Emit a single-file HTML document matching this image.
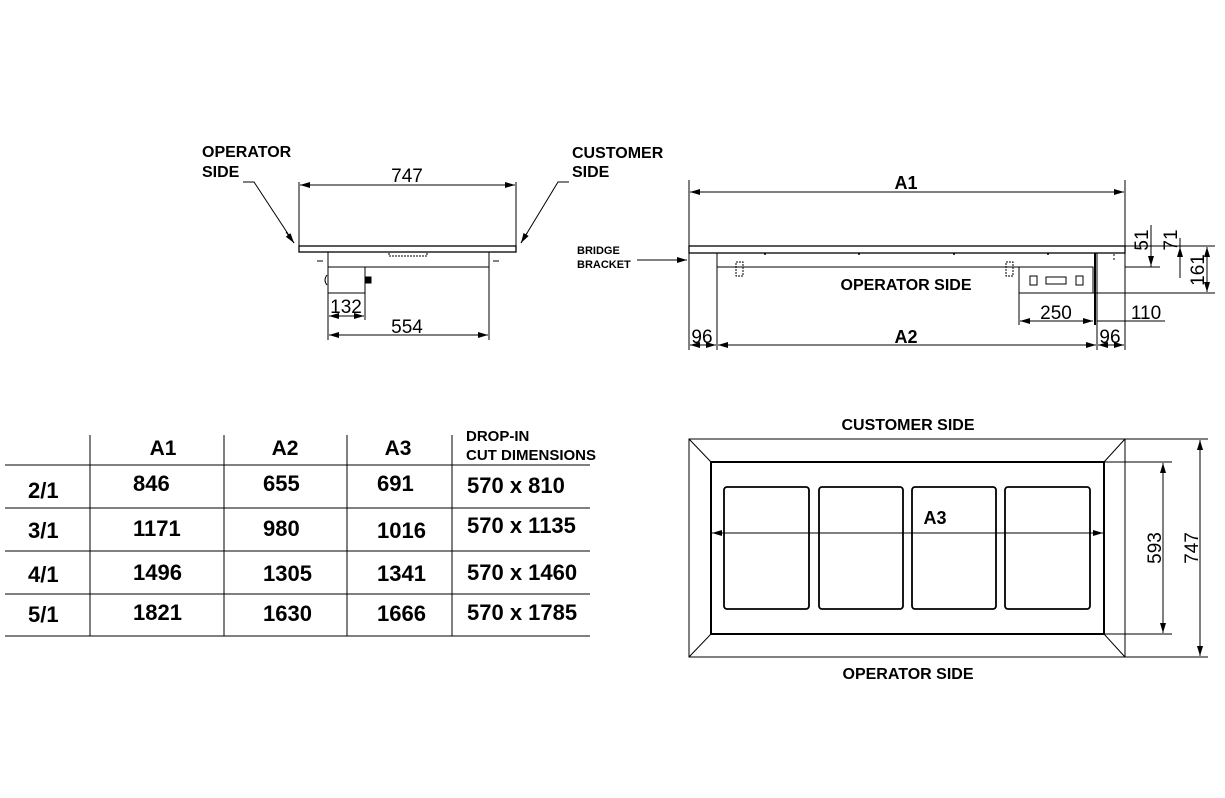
<!DOCTYPE html>
<html><head><meta charset="utf-8"><style>
html,body{margin:0;padding:0;background:#fff;}
svg{display:block;font-family:"Liberation Sans",Arial,sans-serif;}
.b{font-weight:bold;}
</style></head><body>
<svg width="1225" height="798" viewBox="0 0 1225 798" xmlns="http://www.w3.org/2000/svg">
<defs>
<marker id="a" viewBox="0 0 10 6" refX="10" refY="3" markerWidth="10" markerHeight="6" orient="auto-start-reverse" markerUnits="userSpaceOnUse"><path d="M0,0 L10,3 L0,6 z" fill="#000"/></marker>
</defs>
<g stroke="#000" fill="none" stroke-width="1">
<line x1="299" y1="182" x2="299" y2="252"/><line x1="516" y1="182" x2="516" y2="252"/>
<line x1="300" y1="185" x2="515" y2="185" marker-start="url(#a)" marker-end="url(#a)"/>
<rect x="299" y="246" width="217" height="6" stroke-width="1.3"/>
<rect x="328" y="252" width="161" height="15"/>
<line x1="328" y1="267" x2="328" y2="340"/><line x1="489" y1="267" x2="489" y2="340"/>
<line x1="328" y1="293" x2="365" y2="293"/><line x1="365" y1="267" x2="365" y2="320"/>
<path d="M389 253 v3 h38 v-3" stroke-dasharray="2 1"/>
<line x1="317" y1="261" x2="323" y2="261"/><line x1="493" y1="261" x2="499" y2="261"/>
<line x1="329" y1="316" x2="364" y2="316" marker-start="url(#a)" marker-end="url(#a)"/>
<line x1="329" y1="335" x2="488" y2="335" marker-start="url(#a)" marker-end="url(#a)"/>
<polyline points="243,182 254,182 294,243" /><line x1="286" y1="232" x2="294" y2="243" marker-end="url(#a)"/>
<polyline points="569,182 558,182 521,243"/><line x1="527" y1="233" x2="521" y2="243" marker-end="url(#a)"/>
<rect x="366" y="277" width="5" height="6" fill="#000"/>
<path d="M327 275 q-4 5 0 10"/>
<line x1="689" y1="180" x2="689" y2="350"/><line x1="1125" y1="180" x2="1125" y2="350"/>
<line x1="690" y1="192" x2="1124" y2="192" marker-start="url(#a)" marker-end="url(#a)"/>
<rect x="689" y="246" width="436" height="7" stroke-width="1.3"/>
<line x1="1125" y1="246" x2="1215" y2="246"/>
<line x1="1125" y1="267" x2="1160" y2="267"/>
<line x1="1100" y1="293" x2="1215" y2="293"/>
<line x1="717" y1="253" x2="717" y2="350"/>
<line x1="1097" y1="253" x2="1097" y2="350"/>
<line x1="1095" y1="253" x2="1095" y2="325" stroke-width="2"/>
<line x1="717" y1="267" x2="1093" y2="267"/>
<rect x="1019" y="267" width="74" height="26"/>
<line x1="1019" y1="293" x2="1019" y2="325"/>
<line x1="1093" y1="293" x2="1165" y2="293"/>
<rect x="1046" y="277" width="20" height="7"/>
<rect x="1030" y="276" width="7" height="9"/><rect x="1076" y="276" width="7" height="9"/>
<rect x="736" y="262" width="7" height="14" stroke-dasharray="2 1"/><rect x="1006" y="262" width="7" height="14" stroke-dasharray="2 1"/>
<line x1="1020" y1="321" x2="1093" y2="321" marker-start="url(#a)" marker-end="url(#a)"/>
<line x1="1097" y1="321" x2="1165" y2="321"/>
<line x1="690" y1="345" x2="716" y2="345" marker-start="url(#a)" marker-end="url(#a)"/>
<line x1="718" y1="345" x2="1096" y2="345" marker-start="url(#a)" marker-end="url(#a)"/>
<line x1="1098" y1="345" x2="1124" y2="345" marker-start="url(#a)" marker-end="url(#a)"/>
<line x1="1151" y1="225" x2="1151" y2="267"/><line x1="1151" y1="255" x2="1151" y2="266" marker-end="url(#a)"/>
<line x1="1180" y1="238" x2="1180" y2="278"/><line x1="1180" y1="256" x2="1180" y2="247" marker-end="url(#a)"/>
<line x1="1170" y1="293" x2="1185" y2="293"/>
<line x1="1207" y1="247" x2="1207" y2="292" marker-start="url(#a)" marker-end="url(#a)"/>
<line x1="637" y1="260" x2="687" y2="260" marker-end="url(#a)"/>
<line x1="1114" y1="254" x2="1114" y2="262" stroke-dasharray="2 2"/>
<line x1="5" y1="465" x2="590" y2="465"/><line x1="5" y1="508" x2="590" y2="508"/>
<line x1="5" y1="551" x2="590" y2="551"/><line x1="5" y1="594" x2="590" y2="594"/>
<line x1="5" y1="636" x2="590" y2="636"/>
<line x1="90" y1="435" x2="90" y2="636"/><line x1="224" y1="435" x2="224" y2="636"/>
<line x1="347" y1="435" x2="347" y2="636"/><line x1="452" y1="435" x2="452" y2="636"/>
<rect x="689" y="439" width="436" height="218"/>
<rect x="711" y="462" width="393" height="172" stroke-width="2"/>
<line x1="689" y1="439" x2="711" y2="462"/><line x1="1125" y1="439" x2="1104" y2="462"/>
<line x1="689" y1="657" x2="711" y2="634"/><line x1="1125" y1="657" x2="1104" y2="634"/>
<g stroke-width="1.8">
<rect x="724" y="487" width="85" height="122" rx="3"/><rect x="819" y="487" width="84" height="122" rx="3"/>
<rect x="912" y="487" width="84" height="122" rx="3"/><rect x="1005" y="487" width="85" height="122" rx="3"/>
</g>
<line x1="712" y1="533" x2="1103" y2="533" marker-start="url(#a)" marker-end="url(#a)"/>
<line x1="1104" y1="462" x2="1172" y2="462"/><line x1="1104" y1="634" x2="1172" y2="634"/>
<line x1="1125" y1="439" x2="1208" y2="439"/><line x1="1125" y1="657" x2="1208" y2="657"/>
<line x1="1163" y1="463" x2="1163" y2="633" marker-start="url(#a)" marker-end="url(#a)"/>
<line x1="1200" y1="440" x2="1200" y2="656" marker-start="url(#a)" marker-end="url(#a)"/>
</g>
<g fill="#000">
<circle cx="765" cy="254" r="1"/><circle cx="859" cy="254" r="1"/><circle cx="954" cy="254" r="1"/><circle cx="1048" cy="254" r="1"/>
<text x="202" y="157" font-size="16" class="b">OPERATOR</text><text x="202" y="177" font-size="16" class="b">SIDE</text>
<text x="572" y="158" font-size="16" class="b">CUSTOMER</text><text x="572" y="177" font-size="16" class="b">SIDE</text>
<text x="407" y="182" font-size="19" text-anchor="middle">747</text>
<text x="346" y="313" font-size="19" text-anchor="middle">132</text>
<text x="407" y="333" font-size="19" text-anchor="middle">554</text>
<text x="577" y="254" font-size="11" class="b">BRIDGE</text><text x="577" y="268" font-size="11" class="b">BRACKET</text>
<text x="906" y="189" font-size="18" class="b" text-anchor="middle">A1</text>
<text x="906" y="290" font-size="16" class="b" text-anchor="middle">OPERATOR SIDE</text>
<text x="1056" y="319" font-size="19" text-anchor="middle">250</text>
<text x="1146" y="319" font-size="19" text-anchor="middle">110</text>
<text x="702" y="343" font-size="19" text-anchor="middle">96</text>
<text x="906" y="343" font-size="18" class="b" text-anchor="middle">A2</text>
<text x="1110" y="343" font-size="19" text-anchor="middle">96</text>
<text transform="translate(1148,240) rotate(-90)" font-size="19" text-anchor="middle">51</text>
<text transform="translate(1177,240) rotate(-90)" font-size="19" text-anchor="middle">71</text>
<text transform="translate(1204,270) rotate(-90)" font-size="19" text-anchor="middle">161</text>
<g font-size="21" class="b" text-anchor="middle">
<text x="163" y="455">A1</text><text x="285" y="455">A2</text><text x="398" y="455">A3</text>
</g>
<text x="466" y="441" font-size="15" class="b">DROP-IN</text>
<text x="466" y="460" font-size="15" class="b">CUT DIMENSIONS</text>
<g font-size="22" class="b">
<text x="28" y="498">2/1</text><text x="133" y="491">846</text><text x="263" y="491">655</text><text x="377" y="491">691</text><text x="467" y="493">570 x 810</text>
<text x="28" y="538">3/1</text><text x="133" y="536">1171</text><text x="263" y="536">980</text><text x="377" y="538">1016</text><text x="467" y="533">570 x 1135</text>
<text x="28" y="582">4/1</text><text x="133" y="580">1496</text><text x="263" y="581">1305</text><text x="377" y="581">1341</text><text x="467" y="580">570 x 1460</text>
<text x="28" y="622">5/1</text><text x="133" y="620">1821</text><text x="263" y="621">1630</text><text x="377" y="621">1666</text><text x="467" y="620">570 x 1785</text>
</g>
<text x="908" y="430" font-size="16" class="b" text-anchor="middle">CUSTOMER SIDE</text>
<text x="908" y="679" font-size="16" class="b" text-anchor="middle">OPERATOR SIDE</text>
<text x="935" y="524" font-size="18" class="b" text-anchor="middle">A3</text>
<text transform="translate(1161,548) rotate(-90)" font-size="19" text-anchor="middle">593</text>
<text transform="translate(1198,548) rotate(-90)" font-size="19" text-anchor="middle">747</text>
</g>
</svg>
</body></html>
